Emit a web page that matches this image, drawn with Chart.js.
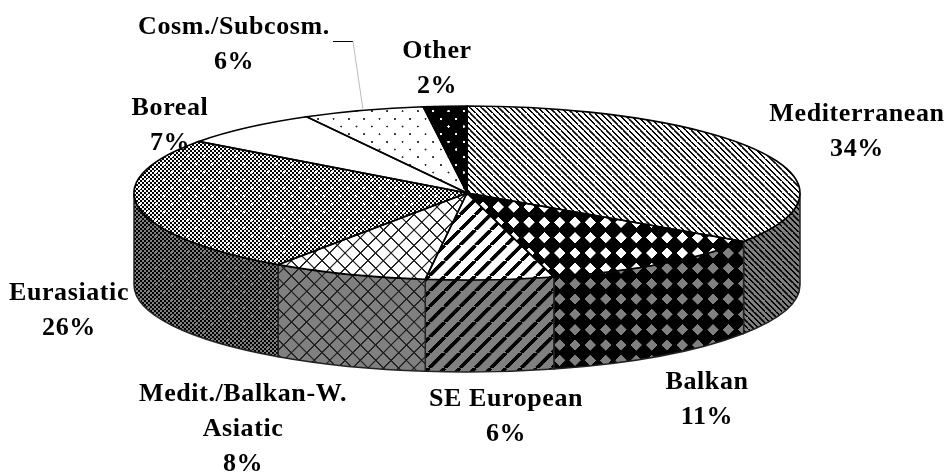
<!DOCTYPE html>
<html>
<head>
<meta charset="utf-8">
<title>Chorotypes</title>
<style>
  html, body { margin: 0; padding: 0; background: #fff; }
  canvas { display: block; }
</style>
<script src="https://cdn.jsdelivr.net/npm/chart.js@4"></script>
</head>
<body>
<canvas id="pieChart" width="949" height="472"></canvas>
<script>
// Chart data; the labels show them rounded
const categories = ['Mediterranean', 'Balkan', 'SE European', 'Medit./Balkan-W.|Asiatic', 'Eurasiatic', 'Boreal', 'Cosm./Subcosm.', 'Other'];
const shares = [34.4, 11.4, 6.2, 7.6, 25.5, 6.9, 5.9, 2.1];

// Pie look: ellipse centre, radii, wall height
const PIE = { x: 467, y: 193, rx: 333, ry: 87, depth: 92 };
const WALL_GREY = '#808080';
const FONT = 'bold 26px "Liberation Serif"';
const LINE_HEIGHT = 35;

// Centre of the first text line of each label, same order as categories
const labelPlaces = [
    [857, 114], [707, 382], [506, 399], [243, 394],
    [69, 293], [170, 108], [234, 27], [437, 51]
];

// Tiles are drawn at 3x and scaled down, which softens them like the original
function makeTile(size, paint) {
    const tile = document.createElement('canvas');
    tile.width = size;
    tile.height = size;
    const c = tile.getContext('2d');
    paint(c, size);
    return tile;
}

function fineLines(c, s, back, fore, width, down) {
    c.fillStyle = back;
    c.fillRect(0, 0, s, s);
    c.strokeStyle = fore;
    c.lineWidth = width;
    c.beginPath();
    for (let k = -s; k <= s; k += s) {
        if (down) {
            c.moveTo(k, 0);
            c.lineTo(k + s, s);
        } else {
            c.moveTo(k, s);
            c.lineTo(k + s, 0);
        }
    }
    c.stroke();
}

function dots(c, s, color, r) {
    c.fillStyle = color;
    [[s / 4, s / 4], [s * 3 / 4, s * 3 / 4]].forEach(([x, y]) => {
        c.beginPath();
        c.arc(x, y, r, 0, Math.PI * 2);
        c.fill();
    });
}

// One painter per slice; back is white on the top face, grey on the wall
const tilePainters = [
    back => makeTile(17, (c, s) => fineLines(c, s, back, '#000', 4.5, true)),
    back => makeTile(46, (c, s) => {
        c.fillStyle = '#000';
        c.fillRect(0, 0, s, s);
        c.fillStyle = back;
        c.beginPath();
        c.moveTo(s / 2, 6);
        c.lineTo(s - 6, s / 2);
        c.lineTo(s / 2, s - 6);
        c.lineTo(6, s / 2);
        c.fill();
    }),
    back => makeTile(46, (c, s) => fineLines(c, s, back, '#000', 11, false)),
    back => makeTile(46, (c, s) => {
        fineLines(c, s, back, '#222', 4, true);
        c.strokeStyle = '#222';
        c.lineWidth = 4;
        c.beginPath();
        for (let k = -s; k <= s; k += s) {
            c.moveTo(k, s);
            c.lineTo(k + s, 0);
        }
        c.stroke();
    }),
    back => makeTile(48, (c, s) => {
        c.fillStyle = back;
        c.fillRect(0, 0, s, s);
        c.fillStyle = '#000';
        for (let i = 0; i < 8; i++) {
            for (let j = 0; j < 8; j++) {
                if ((i + j) % 2 === 0) c.fillRect(i * 6 - 0.4, j * 6 - 0.4, 6.8, 6.8);
            }
        }
        dots(c, s, back, 3.5);
    }),
    back => makeTile(46, (c, s) => {
        c.fillStyle = back;
        c.fillRect(0, 0, s, s);
    }),
    back => makeTile(46, (c, s) => {
        c.fillStyle = back;
        c.fillRect(0, 0, s, s);
        dots(c, s, '#333', 3);
    }),
    back => makeTile(46, (c, s) => {
        c.fillStyle = '#000';
        c.fillRect(0, 0, s, s);
        dots(c, s, back, 3.5);
    })
];

const ctx = document.getElementById('pieChart').getContext('2d');

// Chart.js lays the pie out as a circle filling the canvas height
const circle = { x: 474.5, y: 236, r: 236 };
const sx = PIE.rx / circle.r;
const sy = PIE.ry / circle.r;

const topFaces = tilePainters.map(paint => {
    const pattern = ctx.createPattern(paint('#fff'), 'repeat');
    pattern.setTransform(new DOMMatrix()
        .translate(circle.x, circle.y)
        .scale(1 / sx, 1 / sy)
        .translate(-PIE.x, -PIE.y)
        .scale(1 / 3));
    return pattern;
});

const wallFaces = tilePainters.map(paint => {
    const pattern = ctx.createPattern(paint(WALL_GREY), 'repeat');
    pattern.setTransform(new DOMMatrix().scale(1 / 3));
    return pattern;
});

// Wall below the front half, drawn from the arcs Chart.js computed
function drawWalls(chart) {
    const c = chart.ctx;
    const arcs = chart.getDatasetMeta(0).data;
    c.save();
    arcs.forEach((arc, i) => {
        const a = Math.max(arc.startAngle, 0);
        const b = Math.min(arc.endAngle, Math.PI);
        if (a >= b) return;
        c.beginPath();
        c.ellipse(PIE.x, PIE.y, PIE.rx, PIE.ry, 0, a, b);
        c.ellipse(PIE.x, PIE.y + PIE.depth, PIE.rx, PIE.ry, 0, b, a, true);
        c.closePath();
        c.fillStyle = wallFaces[i];
        c.fill();
        c.strokeStyle = '#222';
        c.lineWidth = 1.5;
        c.stroke();
    });
    c.restore();
}

// Outlines in page space so the line width stays even on the ellipse
function drawOutlines(chart) {
    const c = chart.ctx;
    const arcs = chart.getDatasetMeta(0).data;
    c.save();
    c.strokeStyle = '#000';
    c.lineWidth = 1.6;
    arcs.forEach(arc => {
        c.beginPath();
        c.moveTo(PIE.x, PIE.y);
        c.ellipse(PIE.x, PIE.y, PIE.rx, PIE.ry, 0, arc.startAngle, arc.endAngle);
        c.closePath();
        c.stroke();
    });
    c.restore();
}

function drawLabels(chart) {
    const c = chart.ctx;
    c.save();
    c.font = FONT;
    c.letterSpacing = '0.6px';
    c.fillStyle = '#000';
    c.textAlign = 'center';
    c.textBaseline = 'middle';
    categories.forEach((name, i) => {
        const lines = name.split('|').concat(Math.round(shares[i]) + '%');
        const [x, y] = labelPlaces[i];
        lines.forEach((line, n) => c.fillText(line, x, y + n * LINE_HEIGHT));
    });

    // Leader line of Cosm./Subcosm.
    c.lineWidth = 1;
    c.strokeStyle = '#000';
    c.beginPath();
    c.moveTo(333, 41.5);
    c.lineTo(353, 41.5);
    c.stroke();
    c.strokeStyle = '#bbb';
    c.beginPath();
    c.moveTo(353, 41.5);
    c.lineTo(363, 110);
    c.stroke();
    c.restore();
}

const squashPlugin = {
    id: 'squashPie',
    beforeDatasetsDraw(chart) {
        drawWalls(chart);
        const c = chart.ctx;
        c.save();
        c.translate(PIE.x, PIE.y);
        c.scale(sx, sy);
        c.translate(-circle.x, -circle.y);
    },
    afterDatasetsDraw(chart) {
        chart.ctx.restore();
        drawOutlines(chart);
        drawLabels(chart);
    }
};

new Chart(ctx, {
    type: 'pie',
    data: {
        labels: categories,
        datasets: [{
            data: shares,
            backgroundColor: topFaces,
            borderWidth: 0,
            clip: false
        }]
    },
    options: {
        responsive: false,
        animation: false,
        events: [],
        plugins: {
            legend: { display: false },
            tooltip: { enabled: false }
        }
    },
    plugins: [squashPlugin]
});
</script>
</body>
</html>
